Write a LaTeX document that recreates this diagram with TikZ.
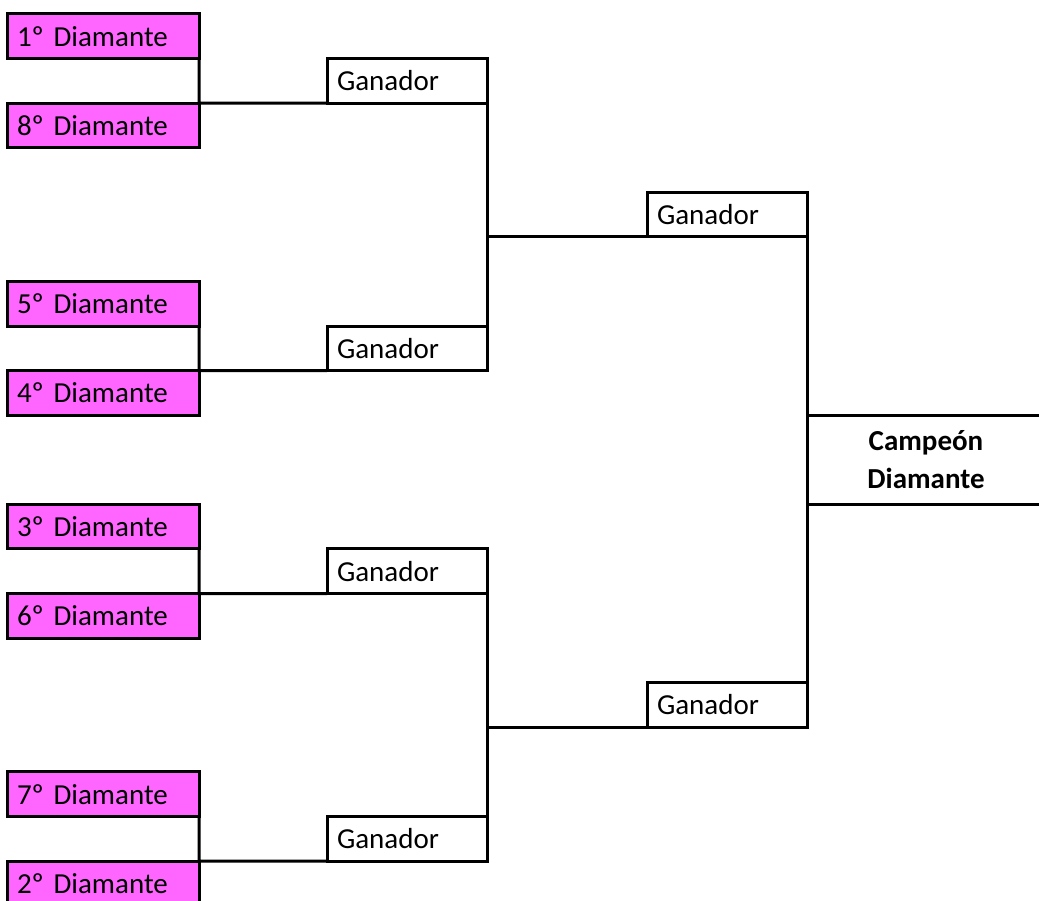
\documentclass[tikz,border=0pt]{standalone}
\usepackage{fontspec}
\setmainfont{Carlito}
\usetikzlibrary{positioning, calc}
\definecolor{rosa}{RGB}{255,102,255}

\begin{document}
\begin{tikzpicture}[
  x=1pt, y=-1pt,
  line width=3pt,
  every node/.style = {font=\fontsize{29}{38}\selectfont, outer sep=0pt, inner xsep=10pt, inner ysep=0pt},
  seed/.style = {draw, fill=rosa, anchor=north west, text width=172pt, minimum height=44.58pt, align=left},
  winner/.style = {draw, fill=white, anchor=north west, text width=140pt, minimum height=44.58pt, align=left},
  champ/.style = {anchor=north west, minimum width=238pt, minimum height=89.16pt, align=center, font=\fontsize{29}{38}\selectfont\bfseries},
  link/.style = {line width=3pt}
]

% Parameters
\def\yo{14}
\def\rh{44.58}
\def\xa{7}
\def\xb{327}
\def\xc{647}
\def\xd{807}

\useasboundingbox (0,0) rectangle (1039,901);
\clip (0,0) rectangle (1039,901);

% Seeds
\node[seed] (d1) at (\xa,{\yo+0*\rh}) {1º Diamante};
\node[seed] (d8) at (\xa,{\yo+2*\rh}) {8º Diamante};
\node[seed] (d5) at (\xa,{\yo+6*\rh}) {5º Diamante};
\node[seed] (d4) at (\xa,{\yo+8*\rh}) {4º Diamante};
\node[seed] (d3) at (\xa,{\yo+11*\rh}) {3º Diamante};
\node[seed] (d6) at (\xa,{\yo+13*\rh}) {6º Diamante};
\node[seed] (d7) at (\xa,{\yo+17*\rh}) {7º Diamante};
\node[seed] (d2) at (\xa,{\yo+19*\rh}) {2º Diamante};

% Quarter final winners
\node[winner] (g1) at (\xb,{\yo+1*\rh}) {Ganador};
\node[winner] (g2) at (\xb,{\yo+7*\rh}) {Ganador};
\node[winner] (g3) at (\xb,{\yo+12*\rh}) {Ganador};
\node[winner] (g4) at (\xb,{\yo+18*\rh}) {Ganador};

% Semi final winners
\node[winner] (s1) at (\xc,{\yo+4*\rh}) {Ganador};
\node[winner] (s2) at (\xc,{\yo+15*\rh}) {Ganador};

% Champion
\node[champ] (camp) at (\xd,{\yo+9*\rh}) {Campeón\\Diamante};

% Links
\draw[link] (d1.south east) -- (d8.north east) -- (g1.south west);
\draw[link] (d5.south east) -- (d4.north east) -- (g2.south west);
\draw[link] (d3.south east) -- (d6.north east) -- (g3.south west);
\draw[link] (d7.south east) -- (d2.north east) -- (g4.south west);
\draw[link] (g1.south east) -- (g2.north east);
\draw[link] (g3.south east) -- (g4.north east);
\draw[link] (s1.south west) -- (s1.south west -| g1.east);
\draw[link] (s2.south west) -- (s2.south west -| g3.east);
\draw[link] (s1.south east) -- (s2.north east);
\draw[link] (camp.north west) -- (camp.north east);
\draw[link] (camp.south west) -- (camp.south east);

\end{tikzpicture}
\end{document}
